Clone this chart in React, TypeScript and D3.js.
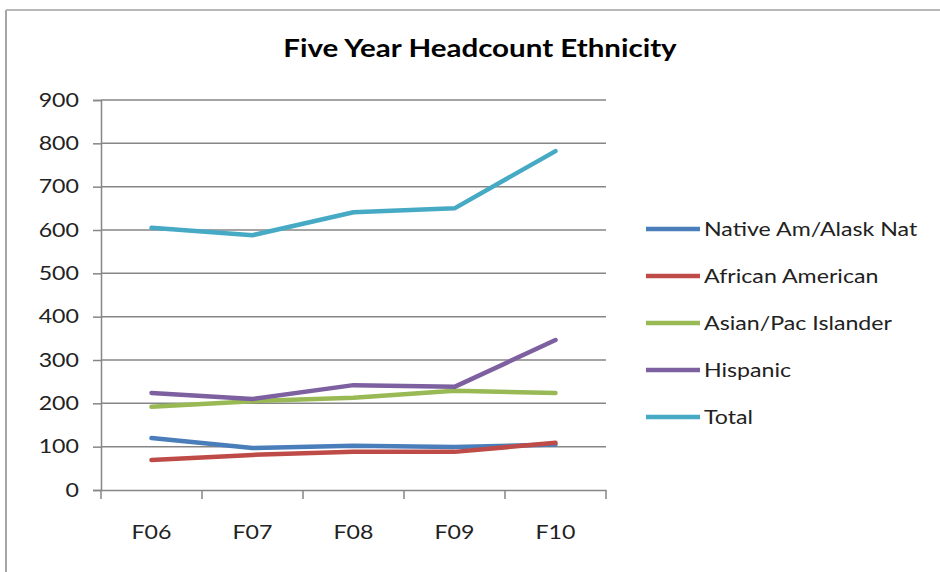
import { useEffect, useRef } from 'react'
import * as d3 from 'd3'

const years = ['F06', 'F07', 'F08', 'F09', 'F10']
const yTicks = [0, 100, 200, 300, 400, 500, 600, 700, 800, 900]

const seriesNames = ['Native Am/Alask Nat', 'African American', 'Asian/Pac Islander', 'Hispanic', 'Total']
const seriesColors = ['#4A7EBB', '#BE4B48', '#98B954', '#7D60A0', '#46AAC5']

const nativeAm = [120, 97, 102, 99, 105]
const africanAm = [69, 81, 88, 88, 109]
const asianPac = [192, 205, 213, 229, 224]
const hispanic = [224, 210, 242, 238, 346]
const total = [605, 588, 641, 650, 782]

const seriesValues = [nativeAm, africanAm, asianPac, hispanic, total]

const FONT = 'Lato, "Open Sans", sans-serif'
// the reference text is a bit wider than Lato, so stretch it horizontally
const STRETCH = 1.22

export default function App() {
  const svgRef = useRef<SVGSVGElement>(null)

  useEffect(() => {
    if (!svgRef.current) return
    const svg = d3.select(svgRef.current)
    svg.selectAll('*').remove()

    const width = 940
    const height = 572
    const plot = { left: 101, right: 606, top: 100, bottom: 490 }

    svg.attr('width', width).attr('height', height)

    // chart frame (only left and top edges are visible)
    svg.append('rect').attr('width', width).attr('height', height).attr('fill', '#fff')
    svg.append('line')
      .attr('x1', 6).attr('x2', 6).attr('y1', 10).attr('y2', height)
      .attr('stroke', '#a6a6a6').attr('stroke-width', 2)
    svg.append('line')
      .attr('x1', 6).attr('x2', width).attr('y1', 10).attr('y2', 10)
      .attr('stroke', '#b8b8b8').attr('stroke-width', 2)

    const x = d3.scaleBand<string>().domain(years).range([plot.left, plot.right]).padding(0)
    const y = d3.scaleLinear().domain([0, 900]).range([plot.bottom, plot.top])
    const cx = (c: string) => (x(c) || 0) + x.bandwidth() / 2

    // Title
    svg.append('text')
      .attr('transform', `translate(480,57) scale(1.23,1)`)
      .attr('text-anchor', 'middle')
      .attr('font-family', FONT)
      .attr('font-weight', 'bold')
      .attr('font-size', '24px')
      .attr('fill', '#000')
      .text('Five Year Headcount Ethnicity')

    // Gridlines
    svg.append('g')
      .selectAll('line')
      .data(yTicks.filter((t) => t > 0))
      .join('line')
      .attr('x1', plot.left).attr('x2', plot.right)
      .attr('y1', (d) => y(d)).attr('y2', (d) => y(d))
      .attr('stroke', '#868686').attr('stroke-width', 1.5)

    const stretchText = (sel: d3.Selection<d3.BaseType, unknown, d3.BaseType, unknown>) => {
      sel.each(function () {
        const el = this as SVGTextElement
        const tx = +(el.getAttribute('x') || 0)
        const ty = +(el.getAttribute('y') || 0)
        el.setAttribute('x', '0')
        el.setAttribute('y', '0')
        el.setAttribute('transform', `translate(${tx},${ty}) scale(${STRETCH},1)`)
      })
    }

    // Y axis
    const yAxis = d3.axisLeft(y).tickValues(yTicks).tickSize(8).tickPadding(14)
    const yg = svg.append('g').attr('transform', `translate(${plot.left},0)`).call(yAxis)
    yg.select('.domain').attr('stroke', '#868686').attr('stroke-width', 1.5)
    yg.selectAll('.tick line').attr('stroke', '#868686').attr('stroke-width', 1.5)
    yg.selectAll('.tick text')
      .attr('font-family', FONT).attr('font-size', '19px').attr('fill', '#222')
      .call(stretchText as any)

    // X axis
    const xAxis = d3.axisBottom(x).tickSize(0).tickPadding(35)
    const xg = svg.append('g').attr('transform', `translate(0,${plot.bottom})`).call(xAxis)
    xg.select('.domain').attr('stroke', '#868686').attr('stroke-width', 1.5)
    xg.selectAll('.tick text')
      .attr('font-family', FONT).attr('font-size', '19px').attr('fill', '#222')
      .call(stretchText as any)
    const boundaries = years.map((c) => x(c) || 0).concat([plot.right])
    xg.selectAll('.bound')
      .data(boundaries)
      .join('line')
      .attr('class', 'bound')
      .attr('x1', (d) => d).attr('x2', (d) => d)
      .attr('y1', 0).attr('y2', 9)
      .attr('stroke', '#868686').attr('stroke-width', 1.5)

    // Lines
    const line = d3.line<number>()
      .x((_, i) => cx(years[i]))
      .y((d) => y(d))

    seriesValues.forEach((vals, i) => {
      svg.append('path')
        .datum(vals)
        .attr('fill', 'none')
        .attr('stroke', seriesColors[i])
        .attr('stroke-width', 4.5)
        .attr('stroke-linejoin', 'round')
        .attr('stroke-linecap', 'round')
        .attr('d', line)
    })

    // Legend
    const legend = svg.append('g').attr('transform', 'translate(646,229)')
    seriesNames.forEach((name, i) => {
      const row = legend.append('g').attr('transform', `translate(0,${i * 47})`)
      row.append('line')
        .attr('x1', 0).attr('x2', 54).attr('y1', 0).attr('y2', 0)
        .attr('stroke', seriesColors[i]).attr('stroke-width', 4.5)
      row.append('text')
        .attr('transform', `translate(58,0) scale(${STRETCH},1)`)
        .attr('dy', '0.35em')
        .attr('font-family', FONT).attr('font-size', '19px').attr('fill', '#222')
        .text(name)
    })
  }, [])

  return (
    <div style={{ position: 'fixed', left: 0, top: 0 }}>
      <svg ref={svgRef} />
    </div>
  )
}
